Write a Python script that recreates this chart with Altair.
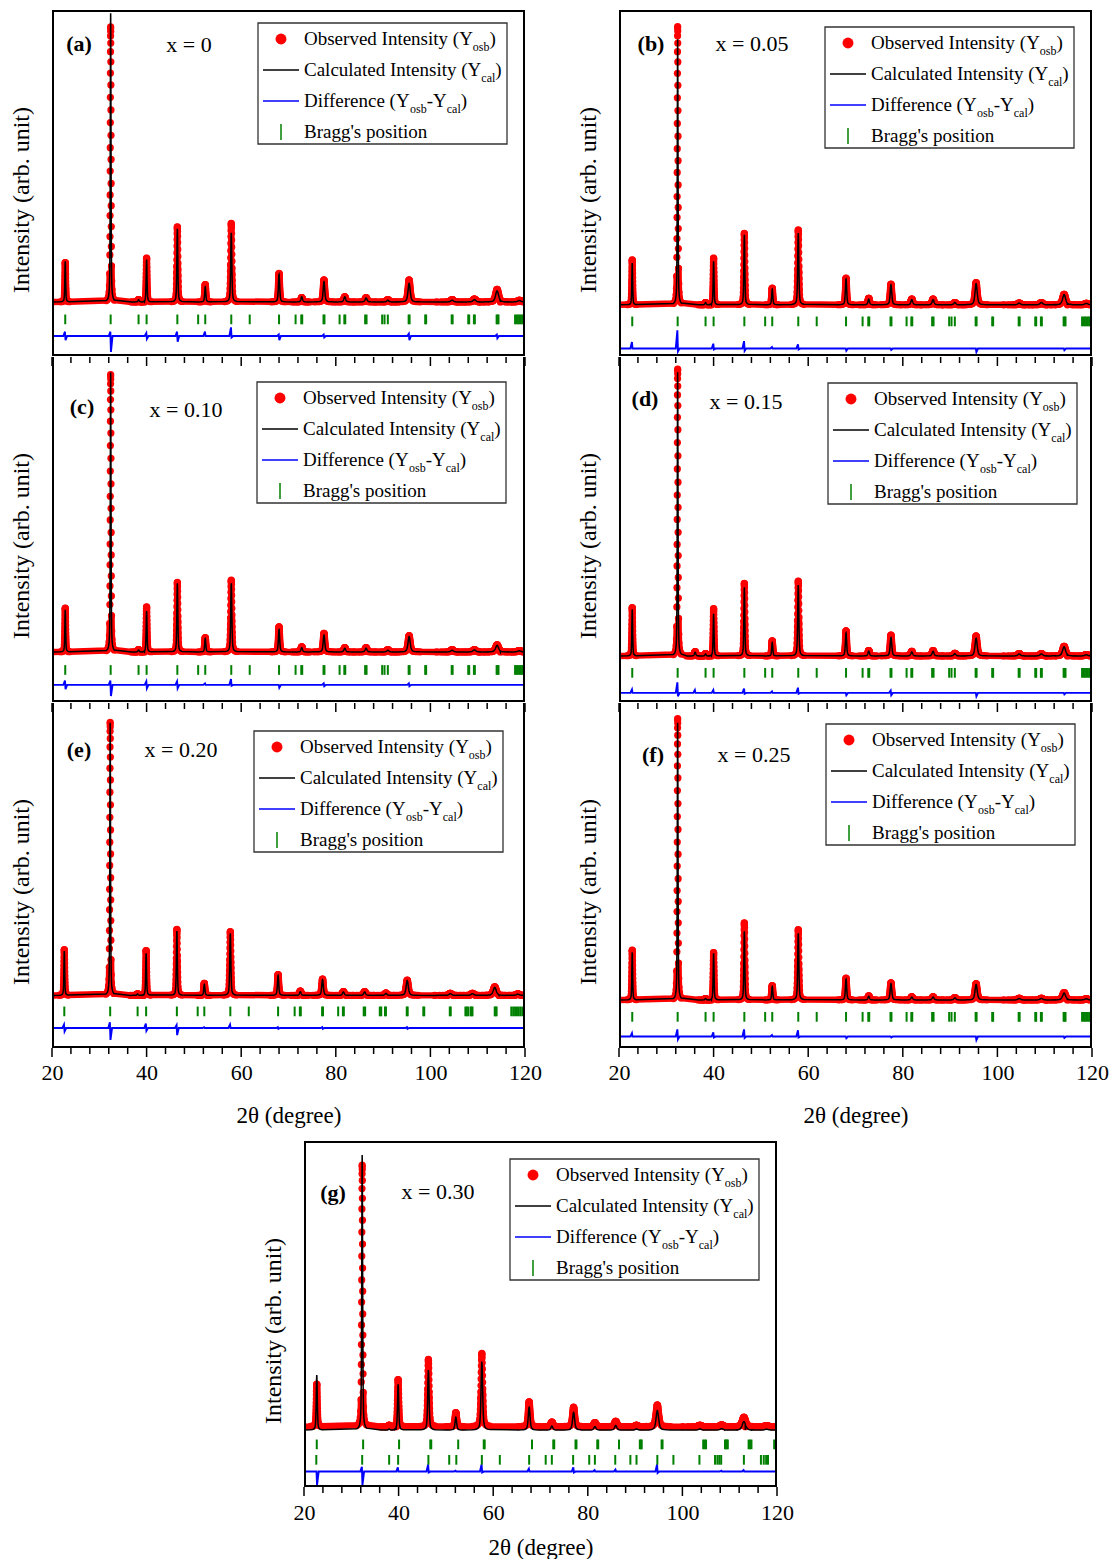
import altair as alt
import pandas as pd

FONT = "Liberation Serif"

# ---------------- data ----------------
# peak positions (2theta, degree)
POS = [22.8, 32.4, 36.1, 38.3, 40.0, 46.5, 52.4, 57.9, 68.0, 72.8, 77.5, 81.9, 86.4, 91.0, 95.5, 104.6, 109.3, 114.1, 118.8]
POS_E = [22.6, 32.3, 36.0, 38.1, 39.9, 46.4, 52.2, 57.7, 67.8, 72.5, 77.2, 81.6, 86.1, 90.6, 95.1, 104.2, 108.9, 113.6, 118.5]
POS_G = [22.7, 32.3, 36.0, 38.0, 39.9, 46.3, 52.1, 57.6, 67.6, 72.4, 77.0, 81.5, 85.9, 90.3, 94.7, 103.7, 108.3, 113.0, 117.8]
# peak widths (FWHM, degree)
FWHM = [0.2, 0.18, 0.35, 0.3, 0.22, 0.24, 0.28, 0.28, 0.32, 0.38, 0.4, 0.45, 0.48, 0.52, 0.55, 0.65, 0.7, 0.75, 0.8]
FWHM_G = [0.26, 0.22, 0.35, 0.35, 0.3, 0.34, 0.4, 0.4, 0.45, 0.5, 0.52, 0.56, 0.58, 0.62, 0.66, 0.72, 0.78, 0.82, 0.9]
# peak profile samples (offset in FWHM units, fraction of peak height); the step
# pattern on the high-angle side is offset from the low-angle side, as in a real scan
SHAPE_U = [-5.0, -3.5, -2.5, -1.8, -1.4, -1.1, -0.9, -0.78, -0.68, -0.6, -0.52, -0.45, -0.38, -0.31,
           -0.24, -0.17, -0.1, -0.04, 0.0,
           0.07, 0.135, 0.205, 0.275, 0.345, 0.415, 0.485, 0.56, 0.64, 0.73, 0.84, 1.0, 1.25, 1.6,
           2.1, 3.0, 4.2]
SHAPE_F = [0.005, 0.010, 0.019, 0.036, 0.059, 0.103, 0.171, 0.238, 0.314, 0.389, 0.476, 0.561, 0.652,
           0.744, 0.832, 0.910, 0.967, 0.995, 1.0,
           0.984, 0.941, 0.873, 0.789, 0.698, 0.606, 0.518, 0.431, 0.350, 0.274, 0.202, 0.131, 0.076,
           0.045, 0.027, 0.014, 0.007]

# observed / calculated peak heights (arb. unit) per sample
OBS_A = [13.8, 96.2, 0, 0.8, 15.3, 26.3, 6.1, 27.5, 10.0, 1.5, 7.7, 1.8, 1.5, 0.8, 7.7, 0.8, 1.0, 4.4, 0.6]
CALC_A = [14.2, 101.0, 0, 0.8, 14.8, 25.6, 5.3, 24.2, 9.7, 1.8, 7.1, 1.8, 1.4, 0.6, 6.5, 0.6, 0.8, 3.9, 0.5]
OBS_B = [15.7, 97.3, 0, 0.8, 16.3, 25.0, 5.8, 26.2, 9.3, 2.3, 7.2, 2.0, 2.0, 0.8, 7.8, 0.6, 0.8, 3.7, 0.5]
CALC_B = [14.6, 92.9, 0, 0.8, 15.2, 24.5, 5.5, 25.1, 9.0, 2.0, 7.0, 1.8, 1.8, 0.8, 7.4, 0.6, 0.8, 3.6, 0.5]
OBS_C = [15.3, 97.0, 0, 0.8, 15.8, 24.3, 5.0, 25.1, 8.8, 1.8, 6.5, 1.5, 1.5, 0.8, 5.7, 0.8, 0.8, 2.5, 0.5]
CALC_C = [14.7, 97.7, 0, 0.7, 14.3, 24.0, 4.7, 24.0, 7.8, 1.5, 5.9, 1.3, 1.3, 0.6, 5.4, 0.6, 0.7, 2.3, 0.4]
OBS_D = [16.9, 100.3, 1.5, 0.8, 16.6, 25.4, 5.3, 26.2, 8.8, 1.9, 7.3, 1.6, 1.9, 0.9, 7.0, 0.8, 0.8, 3.4, 0.5]
CALC_D = [16.3, 99.2, 1.3, 0.7, 14.7, 24.0, 4.7, 24.8, 8.1, 1.7, 6.5, 1.4, 1.6, 0.8, 6.2, 0.7, 0.7, 3.2, 0.4]
OBS_E = [16.0, 95.5, 0, 0.5, 15.7, 23.1, 4.2, 22.3, 7.3, 1.5, 5.7, 1.3, 1.3, 0.8, 5.3, 0.7, 0.7, 3.0, 0.5]
CALC_E = [15.5, 95.3, 0, 0.5, 14.7, 22.5, 3.9, 21.7, 7.0, 1.3, 5.5, 1.2, 1.2, 0.7, 5.2, 0.6, 0.6, 2.8, 0.4]
OBS_F = [17.4, 98.4, 0, 0.5, 16.6, 27.0, 5.0, 24.6, 7.6, 1.4, 6.0, 1.1, 1.1, 0.8, 5.7, 0.6, 0.6, 2.6, 0.4]
CALC_F = [16.6, 96.9, 0, 0.5, 16.3, 24.0, 4.7, 23.3, 7.3, 1.3, 5.7, 1.0, 1.0, 0.7, 5.4, 0.5, 0.5, 2.4, 0.4]
OBS_G = [14.9, 91.5, 0, 0.5, 16.5, 23.5, 4.9, 25.6, 8.7, 1.6, 6.8, 1.4, 1.9, 0.5, 7.6, 0.5, 0.6, 3.3, 0.3]
CALC_G = [19.2, 96.2, 0, 0.4, 16.0, 21.0, 4.5, 23.9, 8.0, 1.4, 6.2, 1.2, 1.6, 0.4, 6.8, 0.4, 0.5, 3.0, 0.3]

# difference curve lobes at each peak (first lobe, second lobe)
D1_A = [1.5, 1.5, 0, 0, 1.0, 1.5, 1.5, 3.0, 0.5, 0, 0.5, 0, 0, 0, 0.8, 0, 0, 0.5, 0]
D2_A = [-1.5, -5.6, 0, 0, -1.0, -2.0, 0, -0.5, -1.5, 0, -0.5, 0, 0, 0, -1.5, 0, 0, -0.8, 0]
D1_B = [2.3, 6.4, 0, 0, 1.7, 2.6, 0.5, 1.5, 0, 0, 0, 0, 0, 0, 0, 0, 0, 0, 0]
D2_B = [0, -1.0, 0, 0, -0.3, -0.8, 0, -0.3, -0.8, 0, -0.5, 0, 0, 0, -1.2, 0, 0, -0.6, 0]
D1_C = [1.5, 1.5, 0, 0, 1.2, 1.2, 0.5, 2.0, 0, 0, 0.5, 0, 0, 0, 0.5, 0, 0, 0, 0]
D2_C = [-1.5, -3.9, 0, 0, -1.2, -1.2, 0, -0.3, -1.0, 0, -0.5, 0, 0, 0, -0.5, 0, 0, 0, 0]
D1_D = [1.2, 3.7, 1.0, 0, 1.0, 1.5, 0.5, 1.8, 0, 0, 0.8, 0, 0, 0, 0, 0, 0, 0, 0]
D2_D = [0, -1.2, 0, 0, 0, -0.3, 0, -0.3, -0.8, 0, -0.8, 0, 0, 0, -1.2, 0, 0, -0.5, 0]
D1_E = [1.2, 2.0, 0, 0, 1.5, 1.0, 0.3, 1.2, 0.3, 0, 0.3, 0, 0, 0, 0.3, 0, 0, 0, 0]
D2_E = [-1.2, -4.2, 0, 0, -1.0, -2.5, 0, 0, -0.3, 0, -0.3, 0, 0, 0, -0.3, 0, 0, 0, 0]
D1_F = [1.2, 2.5, 0, 0, 1.5, 2.5, 0.5, 2.2, 0, 0, 0, 0, 0, 0, 0, 0, 0, 0, 0]
D2_F = [0, -1.0, 0, 0, -0.3, -0.5, 0, -0.3, -0.6, 0, -0.3, 0, 0, 0, -1.2, 0, 0, -0.5, 0]
D1_G = [0, 1.7, 0, 0, 1.5, 2.5, 0.3, 2.5, 1.0, 0, 1.5, 0.5, 0.7, 0, 2.5, 0, 0.3, 0.5, 0]
D2_G = [-4.7, -4.7, 0, 0, 0, -0.3, 0, -0.3, 0, 0, -0.3, 0, 0, 0, -0.5, 0, 0, 0, 0]

# background level, Bragg-row level and difference offset per sample (a..g)
BG_OBS = [0.0, -1.0, -1.4, -2.8, -0.5, -2.1, 2.2]
BG_CALC = [0.0, -1.0, -1.4, -2.8, -0.5, -2.1, 1.0]
BRAGG_Y = [-6.1, -6.8, -7.7, -8.7, -6.1, -8.0, -4.0]
BRAGG_Y2_G = -9.4
BRAGG_HALF = 1.7
DIFF_Y = [-11.9, -16.3, -12.9, -15.7, -11.9, -14.9, -13.5]

# Bragg reflections
BRAGG = [22.8, 32.4, 38.3, 40.0, 46.5, 50.9, 52.4, 57.9, 61.8, 68.0, 71.5, 72.7, 72.9, 77.4, 77.6,
         80.8, 81.8, 82.0, 86.2, 86.5, 89.8, 90.3, 91.0, 95.4, 95.6, 98.9, 99.1, 104.5, 104.7,
         108.0, 108.2, 109.2, 109.4, 114.0, 114.2, 114.4, 117.9, 118.2, 118.5, 118.8, 119.1, 119.4, 119.7]
BRAGG_E = [22.6, 32.3, 38.1, 39.9, 46.4, 50.8, 52.2, 57.7, 61.6, 67.8, 71.3, 72.4, 72.6, 77.1, 77.3,
           80.5, 81.5, 81.7, 85.9, 86.2, 89.3, 89.6, 90.4, 90.6, 95.0, 95.2, 98.5, 98.7, 104.1, 104.3,
           107.4, 107.7, 108.0, 108.5, 108.7, 108.9, 113.6, 113.8, 114.0, 117.1, 117.5, 117.9, 118.3,
           118.7, 119.1, 119.5]
BRAGG_G1 = [22.7, 32.5, 40.1, 46.7, 46.9, 52.6, 58.0, 58.2, 68.2, 72.7, 72.9, 77.4, 77.6, 82.0, 82.2,
            86.6, 91.0, 91.2, 91.4, 95.6, 95.8, 104.4, 104.7, 105.0, 109.0, 109.2, 109.4, 109.6,
            114.0, 114.3, 114.6, 119.4, 119.7]
BRAGG_G2 = [22.6, 32.3, 38.0, 39.9, 46.3, 50.7, 52.2, 57.6, 61.4, 67.6, 71.1, 72.4, 76.9, 80.3, 81.5,
            85.8, 89.0, 90.3, 94.7, 98.1, 103.6, 106.9, 107.4, 107.8, 108.2, 113.0, 116.6, 117.2,
            117.7, 118.1]

TICK_MAJOR = [20, 40, 60, 80, 100, 120]
TICK_MINOR = [24, 28, 32, 36, 44, 48, 52, 56, 64, 68, 72, 76, 84, 88, 92, 96, 104, 108, 112, 116]

PANEL_LABELS = ["(a)", "(b)", "(c)", "(d)", "(e)", "(f)", "(g)"]
COMPOSITIONS = ["x = 0", "x = 0.05", "x = 0.10", "x = 0.15", "x = 0.20", "x = 0.25", "x = 0.30"]

# ---------------- layout (pixels) ----------------
W, H = 473, 346
LEG_XY = [(206, 13), (206, 17), (205, 26), (209, 27), (202, 29), (207, 22), (206, 18)]
LAB_XY = [(27, 34), (32, 34), (30, 51), (26, 43), (27, 48), (34, 53), (29, 52)]
COMP_XY = [(137, 35), (133, 34), (134, 54), (127, 46), (129, 48), (135, 53), (134, 51)]
LINE_CUT = 14.0   # above this height the observed points are shown as separate dots only

XS = alt.Scale(domain=[20, 120], nice=False, zero=False)
YS = alt.Scale(domain=[-18.9, 102.1], nice=False, zero=False)
DUMMY = pd.DataFrame({"d": [0]})

TW = {' ': 250, '(': 333, ')': 333, '-': 333, "'": 180, 'B': 667, 'C': 667, 'D': 722, 'I': 333,
      'O': 722, 'Y': 722, 'a': 444, 'b': 500, 'c': 444, 'd': 500, 'e': 444, 'f': 333, 'g': 500,
      'i': 278, 'l': 278, 'n': 500, 'o': 500, 'p': 500, 'r': 333, 's': 389, 't': 278, 'u': 500,
      'v': 500, 'y': 500}


def twidth(s, fs):
    return sum(TW.get(c, 500) for c in s) * fs / 1000.0


def profile(pos, heights, fwhm, bg):
    pts = [(20.0, bg, 0.0), (120.0, bg, 0.0)]
    for p, h, w in zip(pos, heights, fwhm):
        if h > 0:
            for u, f in zip(SHAPE_U, SHAPE_F):
                x = p + u * w
                if 20.0 < x < 120.0:
                    pts.append((x, bg + h * f, h * f))
    pts.sort()
    df = pd.DataFrame(pts, columns=["t", "v", "rise"])
    seg, s, prev_hidden = [], 0, False
    for r in df["rise"]:
        hidden = r > LINE_CUT
        if prev_hidden and not hidden:
            s += 1
        seg.append(-1 if hidden else s)
        prev_hidden = hidden
    df["seg"] = seg
    return df


def diff_curve(pos, d1, d2, base):
    pts = [(20.0, base), (120.0, base)]
    for p, a, b in zip(pos, d1, d2):
        if a != 0 or b != 0:
            pts += [(p - 0.4, base), (p - 0.06, base + a), (p + 0.06, base + b), (p + 0.4, base)]
    pts.sort()
    return pd.DataFrame(pts, columns=["t", "v"])


def vrule(x, y1, y2, color="black", sw=2.0):
    return alt.Chart(DUMMY).mark_rule(color=color, strokeWidth=sw).encode(
        x=alt.value(x), y=alt.value(y1), y2=alt.value(y2))


def hrule(x1, x2, y, color="black", sw=2.0):
    return alt.Chart(DUMMY).mark_rule(color=color, strokeWidth=sw).encode(
        x=alt.value(x1), x2=alt.value(x2), y=alt.value(y))


def legend_layers(x0, y0):
    rows = [[("Observed Intensity (Y", 0), ("osb", 1), (")", 0)],
            [("Calculated Intensity (Y", 0), ("cal", 1), (")", 0)],
            [("Difference (Y", 0), ("osb", 1), ("-Y", 0), ("cal", 1), (")", 0)],
            [("Bragg's position", 0)]]
    base_off = [22, 53, 84, 115]
    main, sub = [], []
    for r, pieces in enumerate(rows):
        x = x0 + 46
        yb = y0 + base_off[r]
        for s, is_sub in pieces:
            if is_sub:
                sub.append({"px": x, "py": yb + 6, "s": s})
                x += twidth(s, 12)
            else:
                main.append({"px": x, "py": yb, "s": s})
                x += twidth(s, 19)
    box = alt.Chart(DUMMY).mark_rect(fill="white", stroke="#333333", strokeWidth=1.3).encode(
        x=alt.value(x0), x2=alt.value(x0 + 249), y=alt.value(y0), y2=alt.value(y0 + 121))
    sym_obs = alt.Chart(DUMMY).mark_circle(color="#ff0000", size=120, opacity=1).encode(
        x=alt.value(x0 + 23), y=alt.value(y0 + 16))
    sym_calc = hrule(x0 + 5, x0 + 41, y0 + 47, "black", 1.5)
    sym_diff = hrule(x0 + 5, x0 + 41, y0 + 78, "#0000ff", 1.5)
    sym_bragg = vrule(x0 + 23, y0 + 101, y0 + 117, "#008000", 1.5)
    t_main = alt.Chart(pd.DataFrame(main)).mark_text(
        align="left", baseline="alphabetic", font=FONT, fontSize=19, color="black").encode(
        x=alt.X("px:Q", scale=None, axis=None), y=alt.Y("py:Q", scale=None, axis=None), text="s:N")
    t_sub = alt.Chart(pd.DataFrame(sub)).mark_text(
        align="left", baseline="alphabetic", font=FONT, fontSize=12, color="black").encode(
        x=alt.X("px:Q", scale=None, axis=None), y=alt.Y("py:Q", scale=None, axis=None), text="s:N")
    return [box, sym_obs, sym_calc, sym_diff, sym_bragg, t_main, t_sub]


def panel(i, pos, obs, calc, d1, d2, fwhm, bragg_rows, with_axis, top_edge, top_ticks,
          bottom_ticks, guard_y=100, lab_pad=14, title_pad=21):
    df_obs = profile(pos, obs, fwhm, BG_OBS[i])
    df_line = df_obs[df_obs["seg"] >= 0]
    df_calc = profile(pos, calc, fwhm, BG_CALC[i])
    df_diff = diff_curve(pos, d1, d2, DIFF_Y[i])
    rows = []
    for blist, yc in bragg_rows:
        for t in blist:
            rows.append({"t": t, "y1": yc - BRAGG_HALF, "y2": yc + BRAGG_HALF})
    df_bragg = pd.DataFrame(rows)

    if with_axis:
        xaxis = alt.Axis(values=TICK_MAJOR, ticks=False, tickSize=0, domain=False, grid=False,
                         labelFont=FONT, labelFontSize=22, labelColor="black", labelPadding=lab_pad,
                         labelFlush=False, labelOverlap=False,
                         title="2θ (degree)", titleFont=FONT, titleFontSize=23,
                         titleFontWeight="normal", titleColor="black", titlePadding=title_pad)
    else:
        xaxis = None

    def xenc():
        return alt.X("t:Q", scale=XS, axis=xaxis)

    yenc = alt.Y("v:Q", scale=YS, axis=None)
    obs_line = alt.Chart(df_line).mark_line(
        color="#ff0000", strokeWidth=6.5, clip=True, strokeJoin="round", strokeCap="round").encode(
        x=xenc(), y=yenc, detail="seg:N")
    obs_pts = alt.Chart(df_obs).mark_circle(color="#ff0000", size=52, opacity=1, clip=True).encode(
        x=xenc(), y=yenc)
    calc_line = alt.Chart(df_calc).mark_line(color="black", strokeWidth=1.5, clip=True).encode(
        x=xenc(), y=yenc)
    diff_line = alt.Chart(df_diff).mark_line(color="#0000ff", strokeWidth=1.9, clip=True).encode(
        x=xenc(), y=yenc)
    bragg = alt.Chart(df_bragg).mark_rule(color="#008000", strokeWidth=2, clip=True).encode(
        x=xenc(), y=alt.Y("y1:Q", scale=YS, axis=None), y2="y2:Q")
    layers = [obs_line, obs_pts, calc_line, diff_line, bragg]

    df_maj = pd.DataFrame({"t": TICK_MAJOR})
    df_min = pd.DataFrame({"t": TICK_MINOR})
    if top_ticks:   # ticks of the panel above, pointing down into this one
        layers.append(alt.Chart(df_maj).mark_rule(color="black", strokeWidth=1.5).encode(
            x=xenc(), y=alt.value(1), y2=alt.value(10)))
        layers.append(alt.Chart(df_min).mark_rule(color="black", strokeWidth=1.5).encode(
            x=xenc(), y=alt.value(1), y2=alt.value(7)))
    if bottom_ticks:
        layers.append(alt.Chart(df_maj).mark_rule(color="black", strokeWidth=1.5).encode(
            x=xenc(), y=alt.value(H), y2=alt.value(H + 9)))
        layers.append(alt.Chart(df_min).mark_rule(color="black", strokeWidth=1.5).encode(
            x=xenc(), y=alt.value(H), y2=alt.value(H + 6)))

    # frame drawn inside the plot rectangle
    if top_edge:
        layers.append(hrule(0, W, 1))
    layers += [hrule(0, W, H - 1), vrule(1, 1, H - 1), vrule(W - 1, 1, H - 1)]

    layers += legend_layers(*LEG_XY[i])

    lab = alt.Chart(DUMMY).mark_text(font=FONT, fontSize=22, fontWeight="bold", color="black",
                                     align="center", baseline="middle").encode(
        x=alt.value(LAB_XY[i][0]), y=alt.value(LAB_XY[i][1]), text=alt.value(PANEL_LABELS[i]))
    comp = alt.Chart(DUMMY).mark_text(font=FONT, fontSize=22, color="black",
                                      align="center", baseline="middle").encode(
        x=alt.value(COMP_XY[i][0]), y=alt.value(COMP_XY[i][1]), text=alt.value(COMPOSITIONS[i]))
    ytitle = alt.Chart(DUMMY).mark_text(font=FONT, fontSize=24, color="black", angle=270,
                                        align="center", baseline="middle").encode(
        x=alt.value(-30), y=alt.value(190), text=alt.value("Intensity (arb. unit)"))
    guard = alt.Chart(DUMMY).mark_rule(opacity=0, strokeWidth=0).encode(
        x=alt.value(-52), x2=alt.value(495), y=alt.value(guard_y))
    layers += [lab, comp, ytitle, guard]
    return alt.layer(*layers).properties(width=W, height=H)


pa = panel(0, POS, OBS_A, CALC_A, D1_A, D2_A, FWHM, [(BRAGG, BRAGG_Y[0])], False, True, False, False)
pb = panel(1, POS, OBS_B, CALC_B, D1_B, D2_B, FWHM, [(BRAGG, BRAGG_Y[1])], False, True, False, False)
pc = panel(2, POS, OBS_C, CALC_C, D1_C, D2_C, FWHM, [(BRAGG, BRAGG_Y[2])], False, False, True, False)
pd_ = panel(3, POS, OBS_D, CALC_D, D1_D, D2_D, FWHM, [(BRAGG, BRAGG_Y[3])], False, False, True, False)
pe = panel(4, POS_E, OBS_E, CALC_E, D1_E, D2_E, FWHM, [(BRAGG_E, BRAGG_Y[4])], True, False, True, True,
           guard_y=439)
pf = panel(5, POS, OBS_F, CALC_F, D1_F, D2_F, FWHM, [(BRAGG, BRAGG_Y[5])], True, False, True, True,
           guard_y=439)
pg = panel(6, POS_G, OBS_G, CALC_G, D1_G, D2_G, FWHM_G,
           [(BRAGG_G1, BRAGG_Y[6]), (BRAGG_G2, BRAGG_Y2_G)], True, True, False, True,
           lab_pad=15, title_pad=13)

spacer = alt.Chart(DUMMY).mark_rule(opacity=0, strokeWidth=0).encode(
    x=alt.value(0), x2=alt.value(200), y=alt.value(0)).properties(width=200, height=10)

row1 = alt.hconcat(pa, pb, spacing=20)
row2 = alt.hconcat(pc, pd_, spacing=20)
row3 = alt.hconcat(pe, pf, spacing=20)
row4 = alt.hconcat(spacer, pg, spacing=0)

chart = alt.vconcat(row1, row2, row3, row4, spacing=0,
                    padding={"left": 0, "top": 10, "right": 0, "bottom": 0},
                    background="white").configure_view(stroke="transparent", strokeWidth=0)

chart.save("out.html", embed_options={"renderer": "svg", "actions": False})
